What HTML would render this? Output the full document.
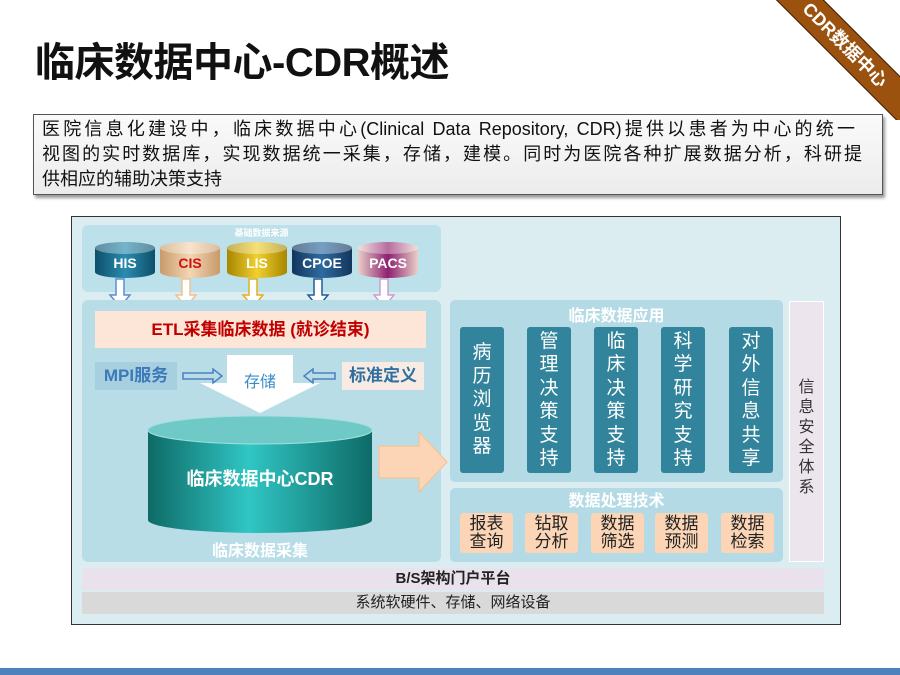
<!DOCTYPE html>
<html><head><meta charset="utf-8"><style>
*{margin:0;padding:0;box-sizing:border-box}
body{width:900px;height:675px;position:relative;background:#fff;overflow:hidden;font-family:"Liberation Sans","Noto Sans CJK SC",sans-serif}
.a{position:absolute}
.col{position:absolute;top:327px;width:44px;height:146px;background:#31849b;border-radius:3px;color:#fff;font-size:19px;line-height:23.5px;text-align:center;display:flex;flex-direction:column;justify-content:center}
.pb{position:absolute;top:513px;width:53px;height:40px;background:#fbd5b5;border-radius:3px;font-size:17px;line-height:18px;text-align:center;padding-top:2px;color:#222}
.cy{position:absolute;top:242px;width:60px;height:36px;border-radius:30px/6px;color:#fff;font-weight:bold;font-size:14px;text-align:center;line-height:42px}
.cy:before{content:"";position:absolute;left:0;top:0;width:60px;height:12px;border-radius:50%;background:rgba(255,255,255,.35)}
.ln{text-align:justify;text-align-last:justify;white-space:nowrap}
</style></head><body>
<div class="a" style="left:35px;top:30px;font-size:40px;font-weight:bold;color:#111;letter-spacing:-0.5px">临床数据中心-CDR概述</div>
<div class="a" style="left:760px;top:0;width:140px;height:120px;overflow:hidden">
 <div class="a" style="left:-15px;top:28px;width:200px;height:34px;background:#9c520f;border:1px solid #3a1c00;transform:rotate(45deg);color:#fff;font-weight:bold;font-size:18px;line-height:32px;text-align:center">CDR数据中心</div>
</div>
<div class="a" style="left:33px;top:114px;width:850px;height:81px;background:linear-gradient(#fafafa,#ececec);border:1px solid #555;box-shadow:2px 3px 3px #999"></div>
<div class="a" style="left:42px;top:117px;font-size:18px;line-height:25px;color:#111">
 <div class="ln" style="width:813px">医院信息化建设中，临床数据中心(Clinical Data Repository, CDR)提供以患者为中心的统一</div>
 <div class="ln" style="width:820px">视图的实时数据库，实现数据统一采集，存储，建模。同时为医院各种扩展数据分析，科研提</div>
 <div>供相应的辅助决策支持</div>
</div>

<div class="a" style="left:71px;top:216px;width:770px;height:409px;background:#dcedf2;border:1px solid #333"></div>
<div class="a" style="left:82px;top:225px;width:359px;height:67px;background:#bde1ea;border-radius:6px"></div>
<div class="a" style="left:82px;top:226px;width:359px;text-align:center;font-size:9px;color:#fff;font-weight:bold">基础数据来源</div>
<div class="cy" style="left:95px;background:linear-gradient(90deg,#0e4f6a,#2a8cb0,#0e4f6a)">HIS</div>
<div class="cy" style="left:160px;background:linear-gradient(90deg,#c89a6a,#f3d6b4,#c89a6a);color:#d01010">CIS</div>
<div class="cy" style="left:227px;background:linear-gradient(90deg,#a88600,#f0d030,#a88600)">LIS</div>
<div class="cy" style="left:292px;background:linear-gradient(90deg,#12365c,#2f6aa0,#12365c)">CPOE</div>
<div class="cy" style="left:358px;background:linear-gradient(90deg,#e8d0c8,#902070,#e8d0c8)">PACS</div>
<svg class="a" style="left:0;top:0" width="900" height="675">
 <g stroke-width="1.5">
 <path d="M116 279v16h-6l10 12 10-12h-6v-16z" fill="#fff" stroke="#5b8fc9"/>
 <path d="M182 279v16h-6l10 12 10-12h-6v-16z" fill="#fff" stroke="#f0c090"/>
 <path d="M249 279v16h-6l10 12 10-12h-6v-16z" fill="#fff" stroke="#e0b020"/>
 <path d="M314 279v16h-6l10 12 10-12h-6v-16z" fill="#fff" stroke="#1f5f95"/>
 <path d="M380 279v16h-6l10 12 10-12h-6v-16z" fill="#fff" stroke="#c8a0d0"/>
 </g>
</svg>
<div class="a" style="left:82px;top:300px;width:359px;height:262px;background:#b9dde7;border-radius:6px"></div>
<div class="a" style="left:95px;top:311px;width:331px;height:37px;background:#fde6d8;color:#c00000;font-weight:bold;font-size:17px;text-align:center;line-height:37px">ETL采集临床数据 (就诊结束)</div>
<div class="a" style="left:95px;top:362px;width:82px;height:28px;background:#a8cfe0;color:#3a7ab8;font-weight:bold;font-size:17px;line-height:28px;text-align:center">MPI服务</div>
<div class="a" style="left:342px;top:362px;width:82px;height:28px;background:#f8ebe4;color:#2f6f9f;font-weight:bold;font-size:17px;line-height:28px;text-align:center">标准定义</div>
<svg class="a" style="left:0;top:0" width="900" height="675">
 <path d="M227 355h66v28h27l-60 30-60-30h27z" fill="#fff"/>
 <path d="M183 373h30v-4l9 7-9 7v-4h-30z" fill="none" stroke="#4a80c0" stroke-width="1.5"/>
 <path d="M335 373h-22v-4l-9 7 9 7v-4h22z" fill="none" stroke="#4a80c0" stroke-width="1.5"/>
 <path d="M379 446h40v-14l28 30-28 30v-14h-40z" fill="#fbd5b5" stroke="#f6c08c"/>
 <defs><linearGradient id="cg" x1="0" x2="1"><stop offset="0" stop-color="#0e6a66"/><stop offset=".45" stop-color="#30c6c4"/><stop offset="1" stop-color="#0e6a66"/></linearGradient></defs>
 <path d="M148 430v90a112 13 0 0 0 224 0v-90z" fill="url(#cg)"/>
 <ellipse cx="260" cy="430" rx="112" ry="14" fill="#6fc9c6" stroke="#a0e0dc"/>
</svg>
<div class="a" style="left:227px;top:368px;width:66px;text-align:center;color:#3a8cc8;font-size:16px">存储</div>
<div class="a" style="left:148px;top:465px;width:224px;text-align:center;color:#fff;font-weight:bold;font-size:18px">临床数据中心CDR</div>
<div class="a" style="left:148px;top:537px;width:224px;text-align:center;color:#fff;font-weight:bold;font-size:16px">临床数据采集</div>

<div class="a" style="left:450px;top:300px;width:333px;height:182px;background:#b4dbe5;border-radius:5px"></div>
<div class="a" style="left:450px;top:302px;width:333px;text-align:center;color:#fff;font-weight:bold;font-size:16px">临床数据应用</div>
<div class="col" style="left:460px">病<br>历<br>浏<br>览<br>器</div>
<div class="col" style="left:527px">管<br>理<br>决<br>策<br>支<br>持</div>
<div class="col" style="left:594px">临<br>床<br>决<br>策<br>支<br>持</div>
<div class="col" style="left:661px">科<br>学<br>研<br>究<br>支<br>持</div>
<div class="col" style="left:729px">对<br>外<br>信<br>息<br>共<br>享</div>
<div class="a" style="left:450px;top:488px;width:333px;height:74px;background:#b4dbe5;border-radius:5px"></div>
<div class="a" style="left:450px;top:487px;width:333px;text-align:center;color:#fff;font-weight:bold;font-size:16px">数据处理技术</div>
<div class="pb" style="left:460px">报表<br>查询</div>
<div class="pb" style="left:525px">钻取<br>分析</div>
<div class="pb" style="left:591px">数据<br>筛选</div>
<div class="pb" style="left:655px">数据<br>预测</div>
<div class="pb" style="left:721px">数据<br>检索</div>
<div class="a" style="left:789px;top:301px;width:35px;height:261px;background:#ede5ee;border:1px solid #fff"></div>
<div class="a" style="left:789px;top:378px;width:35px;text-align:center;font-size:16px;line-height:20px;color:#333">信<br>息<br>安<br>全<br>体<br>系</div>
<div class="a" style="left:82px;top:568px;width:742px;height:22px;background:#e9e1ec;text-align:center;font-weight:bold;font-size:15px;line-height:22px;color:#222">B/S架构门户平台</div>
<div class="a" style="left:82px;top:592px;width:742px;height:22px;background:#d9d9d9;text-align:center;font-size:15px;line-height:22px;color:#222">系统软硬件、存储、网络设备</div>
<div class="a" style="left:0;top:668px;width:900px;height:7px;background:#4f81bd"></div>
</body></html>
